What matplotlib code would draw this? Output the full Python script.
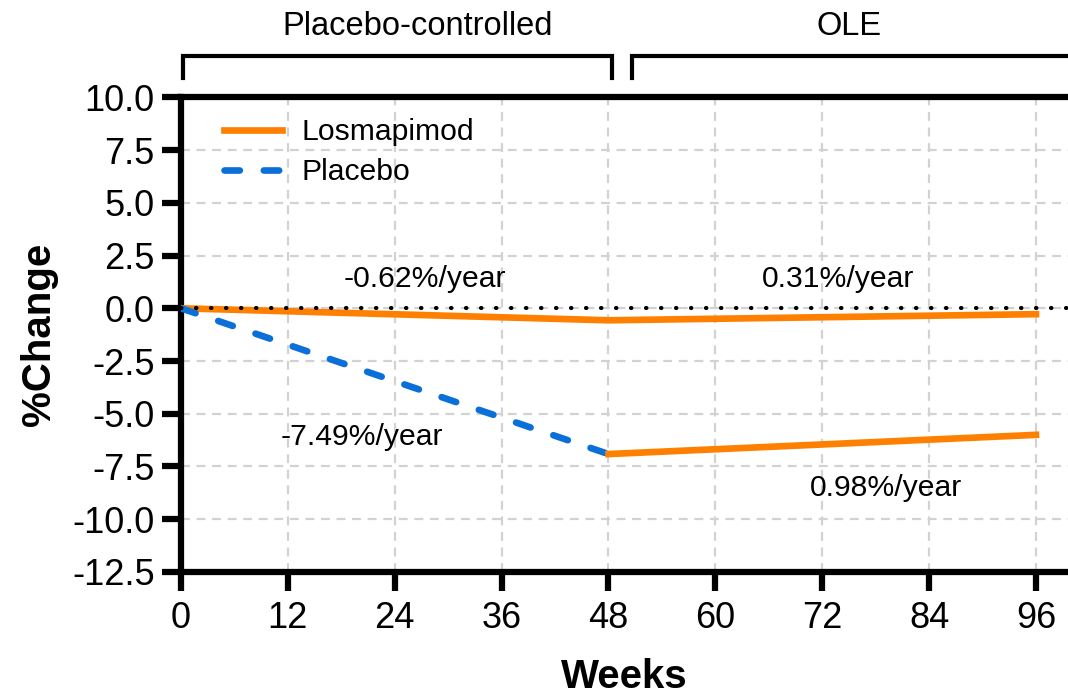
import matplotlib
matplotlib.use("Agg")
import matplotlib.pyplot as plt

plt.rcParams['font.family'] = ['Liberation Sans', 'DejaVu Sans']

# data
weeks = [0, 48, 96]
losmapimod = [0.0, -0.57, -0.28]
placebo_weeks = [0, 48]
placebo = [0.0, -6.91]
ole_weeks = [48, 96]
placebo_ole = [-6.91, -6.0]

rate_labels = ['-0.62%/year', '0.31%/year', '-7.49%/year', '0.98%/year']
rate_x = [27.4, 73.8, 20.3, 79.2]
rate_y = [1.4, 1.4, -6.1, -8.5]

x_ticks = [0, 12, 24, 36, 48, 60, 72, 84, 96]
y_ticks = [10.0, 7.5, 5.0, 2.5, 0.0, -2.5, -5.0, -7.5, -10.0, -12.5]

periods = ['Placebo-controlled', 'OLE']
period_start = [0.2, 50.6]
period_end = [48.4, 102]
period_mid = [26.6, 75]

orange = '#FF8000'
blue = '#0A6FD9'

fig = plt.figure(figsize=(10.68, 6.95), dpi=100)
ax = fig.add_axes([0.1695, 0.177, 0.8305, 0.683])

ax.grid(True, color='#d2d2d2', ls=(0, (4, 3)), lw=1.6, zorder=0)
ax.axhline(0, color='black', ls=(0, (0.1, 3.5)), lw=3, dash_capstyle='round', zorder=5)

ax.plot(weeks, losmapimod, color=orange, lw=4.8, label='Losmapimod', zorder=3)
ax.plot(placebo_weeks, placebo, color=blue, lw=4.8, ls=(0, (2.3, 3.6)),
        dash_capstyle='round', label='Placebo', zorder=3)
ax.plot(ole_weeks, placebo_ole, color=orange, lw=4.8, zorder=3)

for txt, x, y in zip(rate_labels, rate_x, rate_y):
    ax.text(x, y, txt, ha='center', va='center', fontsize=21.7)

# period brackets above the axes
for name, s, e, m in zip(periods, period_start, period_end, period_mid):
    ax.plot([s, s, e, e], [10.9, 11.95, 11.95, 10.9], color='black', lw=3,
            clip_on=False, solid_joinstyle='miter')
    ax.text(m, 13.35, name, ha='center', va='center', fontsize=23.5)

ax.set_xlim(0, 99.6)
ax.set_ylim(-12.5, 10)
ax.set_xticks(x_ticks)
ax.set_yticks(y_ticks)
ax.set_yticklabels([f'{v:.1f}' for v in y_ticks])

for side in ['left', 'bottom', 'top']:
    ax.spines[side].set_linewidth(4.5)
ax.spines['right'].set_visible(False)
ax.tick_params(axis='both', length=14, width=4.5, labelsize=26, direction='out')
ax.tick_params(axis='x', pad=7)
ax.tick_params(axis='y', pad=5)

ax.set_xlabel('Weeks', fontsize=29, fontweight='bold', labelpad=16)
ax.set_ylabel('%Change', fontsize=29, fontweight='bold', labelpad=10)

leg = ax.legend(loc='upper left', frameon=False, fontsize=21.7, handlelength=1.9,
                handletextpad=0.65, borderaxespad=0.3, labelspacing=0.4,
                bbox_to_anchor=(0.025, 1.0))

fig.savefig('out.png', dpi=100)
